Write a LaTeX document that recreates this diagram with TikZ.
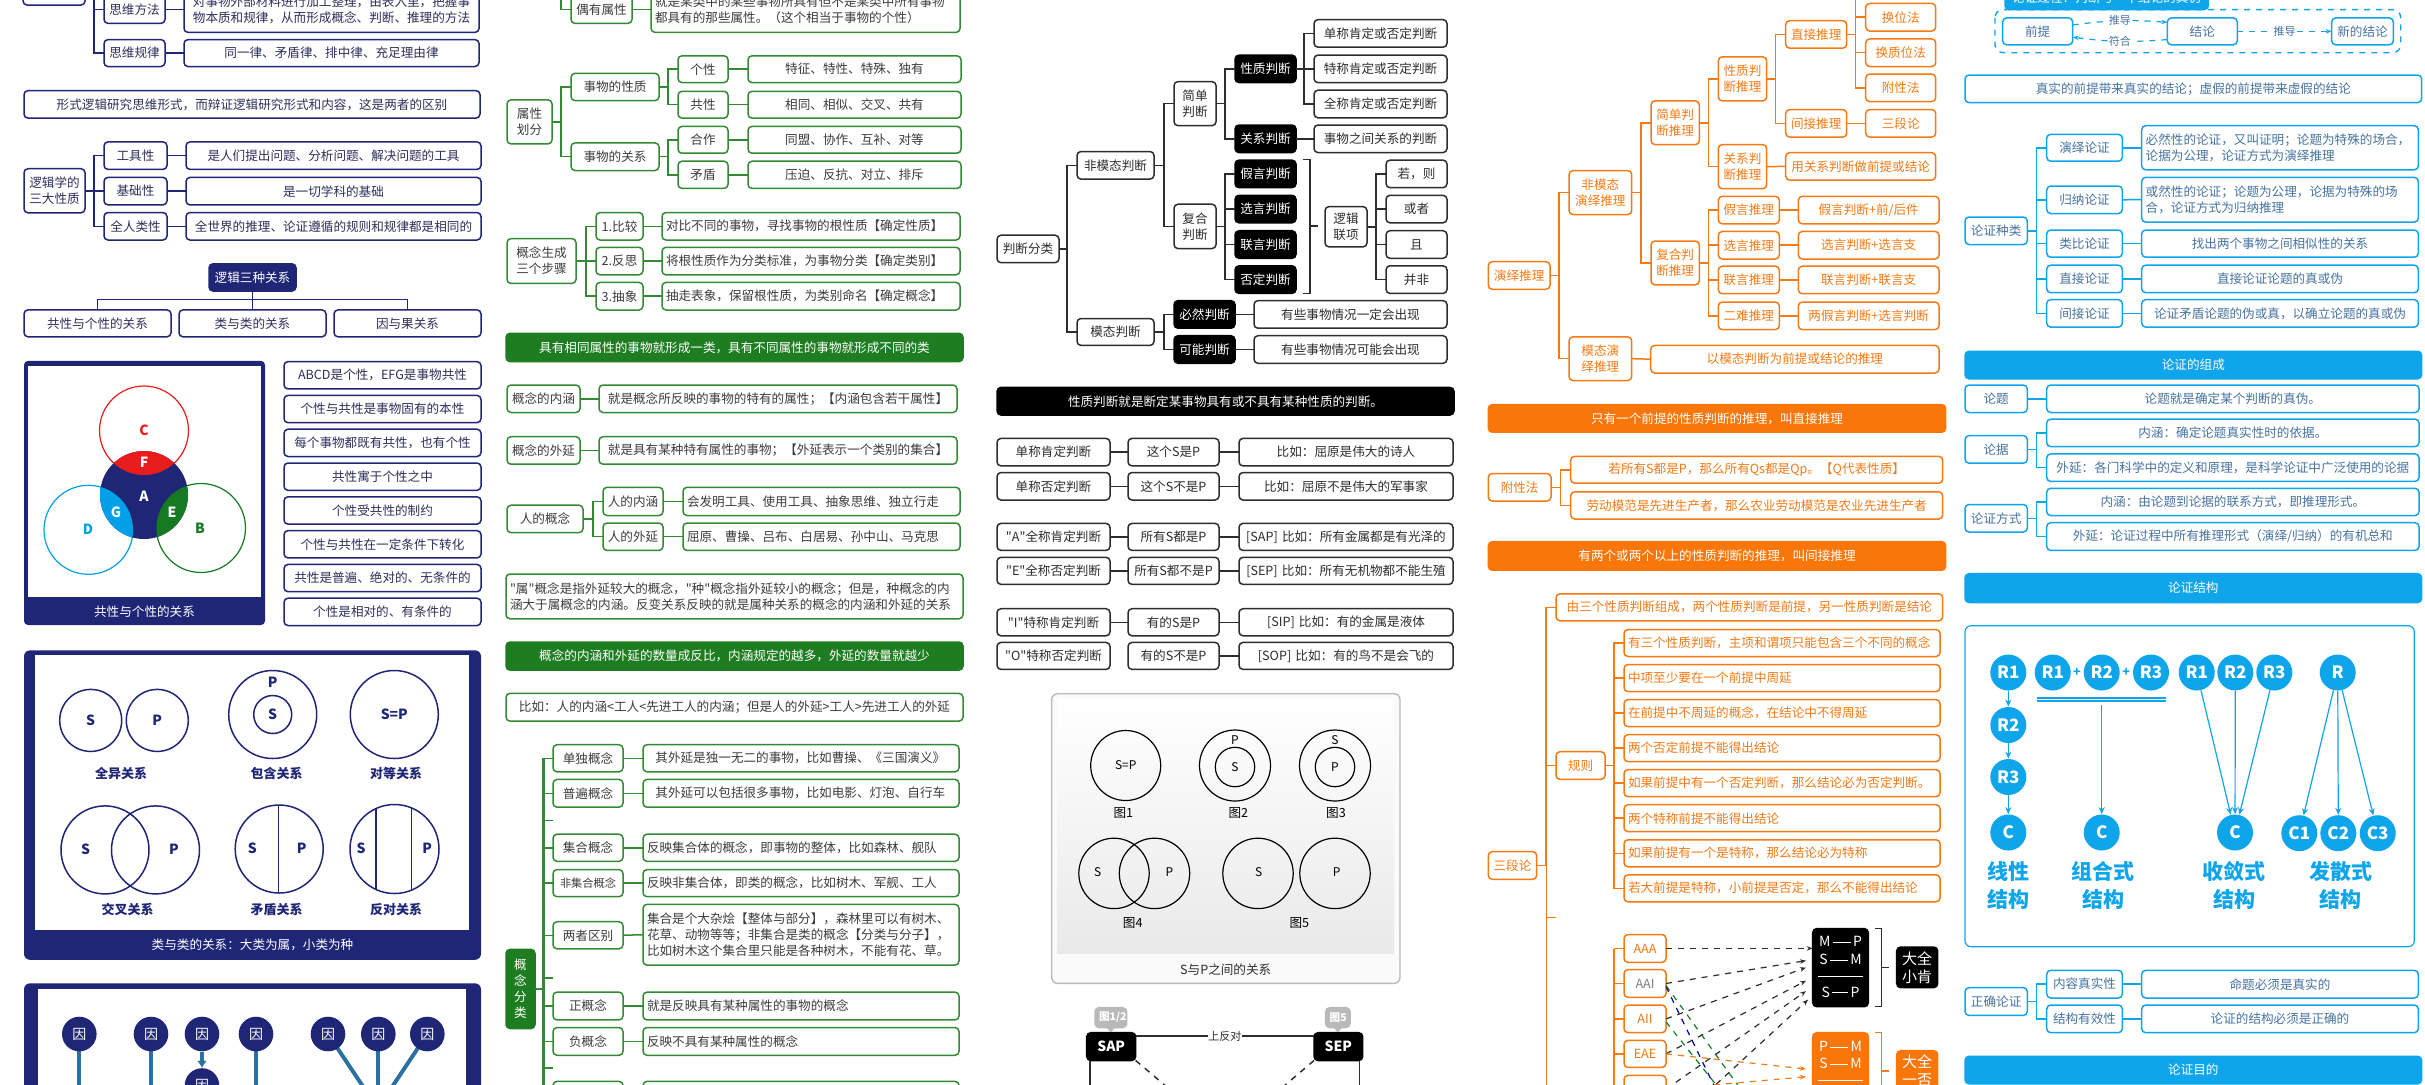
\documentclass[tikz,border=0pt]{standalone}
\usepackage{fontspec}
\setmainfont{Noto Sans CJK SC}
\usetikzlibrary{arrows.meta,positioning,calc}
\definecolor{cnavy}{RGB}{31,38,118}
\definecolor{cnavytx}{RGB}{45,48,90}
\definecolor{cgreen}{RGB}{52,138,52}
\definecolor{cgreenf}{RGB}{30,125,32}
\definecolor{cgreytx}{RGB}{60,60,60}
\definecolor{cdark}{RGB}{45,45,45}
\definecolor{corange}{RGB}{245,122,20}
\definecolor{corangef}{RGB}{248,118,10}
\definecolor{cblue}{RGB}{14,165,235}
\definecolor{cbluetx}{RGB}{70,115,160}
\definecolor{csteel}{RGB}{42,112,160}
\definecolor{cred}{RGB}{232,28,28}
\definecolor{clight}{RGB}{0,160,233}
\definecolor{cvgreen}{RGB}{22,122,34}
\newcommand\fsz{\fontsize{6.3}{8}\selectfont}
\newcommand\qt{\textquotedbl}
\newcommand\bx[7][]{%
  \pgfmathsetmacro\bxw{((#5)-(#3))*0.5-4}%
  \pgfmathsetmacro\bxh{((#6)-(#4))*0.5}%
  \node[box,#1,minimum height=\bxh pt,text width=\bxw pt] (#2) at ({((#3)+(#5))/2},{((#4)+(#6))/2}) {#7};}
\newcommand\tree[3]{\foreach \ch in {#3} \draw[#1] (#2.east) -| ([xshift=-5pt]\ch.west) -- (\ch.west);}
\tikzset{
  box/.style={draw, rounded corners=2pt, line width=0.75pt, inner xsep=2pt, inner ysep=0.5pt, outer sep=0pt, align=center, font=\fsz},
  nv/.style={box, draw=cnavy, text=cnavytx},
  nvf/.style={box, draw=cnavy, fill=cnavy, text=white},
  gr/.style={box, draw=cgreen, text=cgreytx},
  grf/.style={box, draw=cgreenf, fill=cgreenf, text=white},
  bk/.style={box, draw=cdark, text=cdark},
  bkf/.style={box, draw=black, fill=black, text=white},
  og/.style={box, draw=corange, text=corange},
  ogf/.style={box, draw=corangef, fill=corangef, text=white},
  bl/.style={box, draw=cblue, text=cbluetx},
  blf/.style={box, draw=cblue, fill=cblue, text=white},
  lft/.style={align=left},
  nvl/.style={draw=cnavy, line width=0.75pt},
  grl/.style={draw=cgreen, line width=0.75pt},
  bkl/.style={draw=cdark, line width=0.75pt},
  ogl/.style={draw=corange, line width=0.75pt},
  bll/.style={draw=cblue, line width=0.75pt},
  csl/.style={draw=csteel, line width=2pt},
  yin/.style={circle, fill=cnavy, text=white, inner sep=0pt, minimum size=17.3pt, font=\fontsize{7}{8}\selectfont},
  vl/.style={text=cnavy, font=\bfseries\fontsize{7}{8}\selectfont},
  vcap/.style={text=cnavy, font=\bfseries\fontsize{6.5}{8}\selectfont},
  sp/.style={font=\fontsize{6}{7}\selectfont, inner sep=0.5pt},
  tag/.style={box, draw=gray!55, fill=gray!55, text=white, font=\bfseries\fontsize{5.3}{6}\selectfont},
  fig/.style={text=white, inner sep=0pt, font=\fontsize{7}{8}\selectfont},
  dsh/.style={dashed, line width=0.6pt, -{Stealth[length=3pt]}},
  rc/.style={circle, fill=cblue, text=white, inner sep=0pt, minimum size=18pt, font=\bfseries\fontsize{8.5}{10}\selectfont},
  bla/.style={draw=cblue, line width=0.6pt, -{Stealth[length=3.5pt,width=3pt]}},
  bld/.style={draw=cblue, dashed, line width=0.6pt, -{Stealth[length=3pt]}},
  lbl/.style={fill=white, inner sep=0.3pt, text=cbluetx, font=\fontsize{5.5}{6}\selectfont},
  stl/.style={align=center, text=cblue, font=\bfseries\fontsize{10.5}{13.8}\selectfont},
}
\begin{document}
\begin{tikzpicture}[x=0.5pt, y=-0.5pt]
  \useasboundingbox (0,0) rectangle (2425,1084);
  \fill[white] (0,0) rectangle (2425,1084);
  \clip (0,0) rectangle (2425,1084);

  % column 1
  \bx[nv]{topa}{23}{-25}{85}{5}{}
  \bx[nv]{swff}{104}{-4}{165}{23.4}{思维方法}
  \bx[nv]{swffd}{184}{-13}{479}{32.4}{对事物外部材料进行加工整理，由表入里，把握事\\物本质和规律，从而形成概念、判断、推理的方法}
  \bx[nv]{swgl}{104}{39.6}{165}{66.5}{思维规律}
  \bx[nv]{swgld}{184}{39.6}{479}{66.5}{同一律、矛盾律、排中律、充足理由律}
  \coordinate (swtop) at (94,-5);
  \draw[nvl] (swtop) |- (swff.west);
  \draw[nvl] (swtop) |- (swgl.west);
  \draw[nvl] (swff.east) -- (swffd.west);
  \draw[nvl] (swgl.east) -- (swgld.west);

  \bx[nv]{xsbj}{24}{90.6}{480}{118.1}{形式逻辑研究思维形式，而辩证逻辑研究形式和内容，这是两者的区别}

  \bx[nv]{sdxz}{24}{168.7}{85}{212.8}{逻辑学的\\三大性质}
  \bx[nv]{gjx}{104}{141.9}{167}{169.4}{工具性}
  \bx[nv]{jcx}{104}{177.4}{167}{204.9}{基础性}
  \bx[nv]{qrlx}{104}{212.5}{167}{240}{全人类性}
  \bx[nv]{gjxd}{186}{141.9}{481}{169.4}{是人们提出问题、分析问题、解决问题的工具}
  \bx[nv]{jcxd}{186}{177.4}{481}{204.9}{是一切学科的基础}
  \bx[nv]{qrlxd}{186}{212.5}{481}{240}{全世界的推理、论证遵循的规则和规律都是相同的}
  \tree{nvl}{sdxz}{gjx,jcx,qrlx}
  \draw[nvl] (gjx.east) -- (gjxd.west);
  \draw[nvl] (jcx.east) -- (jcxd.west);
  \draw[nvl] (qrlx.east) -- (qrlxd.west);

  \bx[nvf]{szgx}{209}{263.8}{296}{291}{逻辑三种关系}
  \bx[nv]{gxgx}{24}{309.9}{171}{336.8}{共性与个性的关系}
  \bx[nv]{lylgx}{179}{309.9}{326}{336.8}{类与类的关系}
  \bx[nv]{yygx}{334}{309.9}{481}{336.8}{因与果关系}
  \foreach \ch in {gxgx,lylgx,yygx} \draw[nvl] (szgx.south) -- ++(0,8.6) -| (\ch.north);

  \fill[cnavy, rounded corners=2pt] (24,360.9) rectangle (265,625);
  \fill[white] (28.3,365.7) rectangle (260.7,597.3);
  \node[text=white, font=\fsz] (cap1) at (144.5,612) {共性与个性的关系};
  \draw[cred, line width=0.6pt] (144,430.5) circle (22.25pt);
  \draw[clight, line width=0.6pt] (88.5,529.8) circle (22.25pt);
  \draw[cvgreen, line width=0.6pt] (201,528) circle (22.25pt);
  \fill[cnavy] (144,495) circle (22pt);
  \begin{scope}
    \clip (144,495) circle (22pt);
    \fill[cred] (144,430.5) circle (22.25pt);
    \fill[clight] (88.5,529.8) circle (22.25pt);
    \fill[cvgreen] (201,528) circle (22.25pt);
  \end{scope}
  \node[vl, text=cred] (vc) at (144,430.5) {C};
  \node[vl, text=white] (vf) at (144,462.5) {F};
  \node[vl, text=white] (va) at (144,496) {A};
  \node[vl, text=white] (vg) at (116,512) {G};
  \node[vl, text=white] (ve) at (172,512) {E};
  \node[vl, text=clight] (vd) at (88,529.6) {D};
  \node[vl, text=cvgreen] (vb) at (200,528) {B};

  \foreach \t [count=\i from 0] in {ABCD是个性，EFG是事物共性,个性与共性是事物固有的本性,每个事物都既有共性，也有个性,共性寓于个性之中,个性受共性的制约,个性与共性在一定条件下转化,共性是普遍、绝对的、无条件的,个性是相对的、有条件的}
    {\bx[nv]{gxl\i}{284}{361.6+33.8*\i}{481}{388.9+33.8*\i}{\t}}

  \fill[cnavy, rounded corners=3pt] (24,650.3) rectangle (481,959.8);
  \fill[white] (35,655.2) rectangle (469,930.4);
  \node[text=white, font=\fsz] (cap2) at (252.5,945.3) {类与类的关系：大类为属，小类为种};
  \begin{scope}[cnavy, line width=0.75pt]
    \draw (90.7,720.4) circle (15.5pt);
    \draw (157.3,720.4) circle (15.5pt);
    \draw (272.7,714.5) circle (22pt);
    \draw (272.7,714.5) circle (9.5pt);
    \draw (394.3,714.5) circle (22pt);
    \draw (105,849.9) circle (22pt);
    \draw (155.5,849.9) circle (22pt);
    \draw (279.2,849) circle (22pt);
    \draw (278.7,805) -- (278.7,893);
    \draw (394.5,849) circle (22.25pt);
    \draw (376,808.5) -- (376,889.5);
    \draw (411.7,808) -- (411.7,890);
  \end{scope}
  \node[vl] (qs) at (90.7,720.4) {S};
  \node[vl] (qp) at (157.3,720.4) {P};
  \node[vl] (bp) at (272.7,682.3) {P};
  \node[vl] (bs) at (272.7,714.5) {S};
  \node[vl] (ds) at (394.3,714.5) {S=P};
  \node[vl] (js) at (85.7,848.8) {S};
  \node[vl] (jp) at (174,848.8) {P};
  \node[vl] (ms) at (252.3,848) {S};
  \node[vl] (mp) at (301.7,848) {P};
  \node[vl] (fs) at (361,848) {S};
  \node[vl] (fp) at (427.3,848) {P};
  \node[vcap] (l1) at (121,773.5) {全异关系};
  \node[vcap] (l2) at (276.7,773.5) {包含关系};
  \node[vcap] (l3) at (396,773.5) {对等关系};
  \node[vcap] (l4) at (127.7,909.5) {交叉关系};
  \node[vcap] (l5) at (276.7,909.5) {矛盾关系};
  \node[vcap] (l6) at (396,909.5) {反对关系};

  \fill[cnavy, rounded corners=3pt] (24,983.3) rectangle (481,1120);
  \fill[white] (37.7,989.3) rectangle (465.7,1120);
  \draw[csl] (79.3,1034) -- ++(0,70);
  \draw[csl] (151,1034) -- ++(0,70);
  \draw[csl] (256,1034) -- ++(0,70);
  \draw[csl] (328,1034) -- ++(40,60);
  \draw[csl] (378.3,1034) -- ++(0,70);
  \draw[csl] (427.3,1034) -- ++(-40,60);
  \foreach \x [count=\i] in {79.3,151,202,256,328,378.3,427.3}
    \node[yin] (yin\i) at (\x,1034) {因};
  \node[yin] (yin8) at (202,1085.5) {因};
  \draw[csl, -{Latex[length=3.5pt,width=5pt]}] (yin3) -- (yin8);

  % column 2
  \bx[gr]{oysx}{571}{-4}{632}{23.4}{偶有属性}
  \bx[gr,lft]{oysxd}{651}{-13}{960}{32.4}{就是某类中的某些事物所具有但不是某类中所有事物\\都具有的那些属性。（这个相当于事物的个性）}
  \draw[grl] (561,-5) |- (oysx.west);
  \draw[grl] (oysx.east) -- (oysxd.west);

  \bx[gr]{sxhf}{507}{99.9}{552}{143.9}{属性\\划分}
  \bx[gr]{swxz}{571}{73.3}{659}{100.6}{事物的性质}
  \bx[gr]{swgx}{571}{142.9}{659}{170.5}{事物的关系}
  \bx[gr]{gexing}{678}{55.8}{728}{82.6}{个性}
  \bx[gr]{gongxing}{678}{91.3}{728}{118.1}{共性}
  \bx[gr]{hezuo}{678}{126.4}{728}{153.2}{合作}
  \bx[gr]{maodun}{678}{161.2}{728}{188.4}{矛盾}
  \bx[gr]{gexingd}{748}{55.8}{961}{82.6}{特征、特性、特殊、独有}
  \bx[gr]{gongxingd}{748}{91.3}{961}{118.1}{相同、相似、交叉、共有}
  \bx[gr]{hezuod}{748}{126.4}{961}{153.2}{同盟、协作、互补、对等}
  \bx[gr]{maodund}{748}{161.2}{961}{188.4}{压迫、反抗、对立、排斥}
  \tree{grl}{sxhf}{swxz,swgx}
  \tree{grl}{swxz}{gexing,gongxing}
  \tree{grl}{swgx}{hezuo,maodun}
  \foreach \ch in {gexing,gongxing,hezuo,maodun} \draw[grl] (\ch.east) -- (\ch d.west);

  \bx[gr]{gnsc}{507}{238.6}{576}{283.4}{概念生成\\三个步骤}
  \bx[gr]{bj}{596}{212.5}{643}{240}{1.比较}
  \bx[gr]{fs}{596}{247.3}{643}{274.8}{2.反思}
  \bx[gr]{cx}{596}{282.4}{643}{310}{3.抽象}
  \bx[gr,lft]{bjd}{662}{212.5}{960}{240}{对比不同的事物，寻找事物的根性质【确定性质】}
  \bx[gr,lft]{fsd}{662}{247.3}{960}{274.8}{将根性质作为分类标准，为事物分类【确定类别】}
  \bx[gr,lft]{cxd}{662}{282.4}{960}{310}{抽走表象，保留根性质，为类别命名【确定概念】}
  \tree{grl}{gnsc}{bj,fs,cx}
  \foreach \ch in {bj,fs,cx} \draw[grl] (\ch.east) -- (\ch d.west);

  \bx[grf]{ban1}{506}{333.3}{963}{361.6}{具有相同属性的事物就形成一类，具有不同属性的事物就形成不同的类}
  \bx[gr]{gnnh}{507}{385}{580}{412.5}{概念的内涵}
  \bx[gr]{gnnhd}{599}{385}{957}{412.5}{就是概念所反映的事物的特有的属性；【内涵包含若干属性】}
  \bx[gr]{gnwy}{507}{436.7}{580}{464.2}{概念的外延}
  \bx[gr]{gnwyd}{599}{436.7}{957}{464.2}{就是具有某种特有属性的事物；【外延表示一个类别的集合】}
  \draw[grl] (gnnh.east) -- (gnnhd.west);
  \draw[grl] (gnwy.east) -- (gnwyd.west);

  \bx[gr]{rdgn}{507}{505.2}{583}{532.7}{人的概念}
  \bx[gr]{rnh}{603}{487.3}{663}{515.5}{人的内涵}
  \bx[gr]{rwy}{603}{523}{663}{550.4}{人的外延}
  \bx[gr,lft]{rnhd}{683}{487.3}{960}{515.5}{会发明工具、使用工具、抽象思维、独立行走}
  \bx[gr,lft]{rwyd}{683}{523}{960}{550.4}{屈原、曹操、吕布、白居易、孙中山、马克思}
  \tree{grl}{rdgn}{rnh,rwy}
  \draw[grl] (rnh.east) -- (rnhd.west);
  \draw[grl] (rwy.east) -- (rwyd.west);

  \bx[gr,lft]{szgn}{506}{574}{963}{618.8}{\qt 属\qt 概念是指外延较大的概念，\qt 种\qt 概念指外延较小的概念；但是，种概念的内\\涵大于属概念的内涵。反变关系反映的就是属种关系的概念的内涵和外延的关系}
  \bx[grf]{ban2}{506}{642}{963}{670.1}{概念的内涵和外延的数量成反比，内涵规定的越多，外延的数量就越少}
  \bx[gr]{biru}{506}{693.4}{963}{721.1}{比如：人的内涵<工人<先进工人的内涵；但是人的外延>工人>先进工人的外延}

  \bx[grf]{gnfl}{506}{949.4}{535}{1028.5}{概\\念\\分\\类}
  \draw[grl] (544,758.6) -- (544,1100);
  \foreach \y in {820.4,978.2,1068.1} \draw[grl] (544,\y) -- (553,\y);
  \bx[gr]{ddgn}{553}{744.7}{623}{771.8}{单独概念}
  \bx[gr]{pbgn}{553}{779.4}{623}{807.2}{普遍概念}
  \bx[gr]{jhgn}{553}{834.2}{623}{861.3}{集合概念}
  \bx[gr,font=\fontsize{5.6}{7}\selectfont]{fjhgn}{553}{869.6}{623}{896.7}{非集合概念}
  \bx[gr]{lzqb}{553}{921.7}{623}{948.8}{两者区别}
  \bx[gr]{zgn}{553}{992.1}{623}{1019.9}{正概念}
  \bx[gr]{fgn}{553}{1027.5}{623}{1055.3}{负概念}
  \bx[gr]{nxgn}{553}{1081.3}{623}{1108.5}{}
  \bx[gr,lft]{ddgnd}{643}{744.7}{959}{771.8}{\ \ 其外延是独一无二的事物，比如曹操、《三国演义》}
  \bx[gr,lft]{pbgnd}{643}{779.4}{959}{807.2}{\ \ 其外延可以包括很多事物，比如电影、灯泡、自行车}
  \bx[gr,lft]{jhgnd}{643}{834.2}{959}{861.3}{反映集合体的概念，即事物的整体，比如森林、舰队}
  \bx[gr,lft]{fjhgnd}{643}{869.6}{959}{896.7}{反映非集合体，即类的概念，比如树木、军舰、工人}
  \bx[gr,lft]{lzqbd}{643}{904.3}{959}{965.1}{集合是个大杂烩【整体与部分】，森林里可以有树木、\\花草、动物等等；非集合是类的概念【分类与分子】，\\比如树木这个集合里只能是各种树木，不能有花、草。}
  \bx[gr,lft]{zgnd}{643}{992.1}{959}{1019.9}{就是反映具有某种属性的事物的概念}
  \bx[gr,lft]{fgnd}{643}{1027.5}{959}{1055.3}{反映不具有某种属性的概念}
  \bx[gr,lft]{nxgnd}{643}{1081.3}{959}{1108.5}{}
  \tree{grl}{gnfl}{ddgn,pbgn,jhgn,fjhgn,lzqb,zgn,fgn,nxgn}
  \foreach \ch in {ddgn,pbgn,jhgn,fjhgn,lzqb,zgn,fgn,nxgn} \draw[grl] (\ch.east) -- (\ch d.west);

  % column 3
  \bx[bk]{pdfl}{997}{235.2}{1059}{262.7}{判断分类}
  \bx[bk]{fmt}{1077}{151.5}{1154}{179.1}{非模态判断}
  \bx[bk]{mt}{1077}{318.5}{1154}{345.4}{模态判断}
  \bx[bk]{jdpd}{1174}{81.6}{1216}{125.7}{简单\\判断}
  \bx[bk]{fhpd}{1174}{204.2}{1216}{248.6}{复合\\判断}
  \bx[bkf]{xzpd}{1235}{55.1}{1296}{82.6}{性质判断}
  \bx[bkf]{gxpd}{1235}{125}{1296}{152.6}{关系判断}
  \bx[bk]{dcpd}{1314}{19.6}{1447}{47.2}{单称肯定或否定判断}
  \bx[bk]{tcpd}{1314}{55.1}{1447}{82.6}{特称肯定或否定判断}
  \bx[bk]{qcpd}{1314}{90.2}{1447}{117.8}{全称肯定或否定判断}
  \bx[bk]{gxpdd}{1314}{125}{1447}{152.6}{事物之间关系的判断}
  \bx[bkf]{jypd}{1235}{160.1}{1296}{187.7}{假言判断}
  \bx[bkf]{xypd}{1235}{195.3}{1296}{222.8}{选言判断}
  \bx[bkf]{lypd}{1235}{230.7}{1296}{258.3}{联言判断}
  \bx[bkf]{fdpd}{1235}{265.8}{1296}{293.4}{否定判断}
  \bx[bk]{ljlx}{1325}{206.6}{1367}{246.9}{逻辑\\联项}
  \bx[bk]{rz}{1386}{160.1}{1447}{187.7}{若，则}
  \bx[bk]{hz}{1386}{195.3}{1447}{222.8}{或者}
  \bx[bk]{qie}{1386}{230.7}{1447}{258.3}{且}
  \bx[bk]{bf}{1386}{265.8}{1447}{293.4}{并非}
  \bx[bkf]{brpd}{1174}{300.6}{1235}{328.2}{必然判断}
  \bx[bkf]{knpd}{1174}{335.7}{1235}{363.3}{可能判断}
  \bx[bk]{brpdd}{1254}{300.6}{1447}{328.2}{有些事物情况一定会出现}
  \bx[bk]{knpdd}{1254}{335.7}{1447}{363.3}{有些事物情况可能会出现}
  \tree{bkl}{pdfl}{fmt,mt}
  \tree{bkl}{fmt}{jdpd,fhpd}
  \tree{bkl}{jdpd}{xzpd,gxpd}
  \tree{bkl}{xzpd}{dcpd,tcpd,qcpd}
  \draw[bkl] (gxpd.east) -- (gxpdd.west);
  \tree{bkl}{fhpd}{jypd,xypd,lypd,fdpd}
  \tree{bkl}{ljlx}{rz,hz,qie,bf}
  \tree{bkl}{mt}{brpd,knpd}
  \draw[bkl] (brpd.east) -- (brpdd.west);
  \draw[bkl] (knpd.east) -- (knpdd.west);
  \draw[bkl] (1303,159.4) -- (1310,159.4) -- (1310,293.4) -- (1303,293.4);
  \draw[bkl] (1310,226.2) -- (1318,226.2);

  \bx[bkf]{ban3}{997}{387.4}{1454}{415}{性质判断就是断定某事物具有或不具有某种性质的判断。}
  \bx[bk]{ra1}{997}{438.4}{1110}{465.9}{单称肯定判断}
  \bx[bk]{rb1}{1128}{438.4}{1219}{465.9}{这个S是P}
  \bx[bk]{rc1}{1239}{438.4}{1453}{465.9}{比如：屈原是伟大的诗人}
  \bx[bk]{ra2}{997}{472.5}{1110}{500}{单称否定判断}
  \bx[bk]{rb2}{1128}{472.5}{1219}{500}{这个S不是P}
  \bx[bk]{rc2}{1239}{472.5}{1453}{500}{比如：屈原不是伟大的军事家}
  \bx[bk]{ra3}{997}{523.4}{1110}{550.4}{\qt A\qt 全称肯定判断}
  \bx[bk]{rb3}{1128}{523.4}{1219}{550.4}{所有S都是P}
  \bx[bk]{rc3}{1239}{523.4}{1453}{550.4}{[SAP] 比如：所有金属都是有光泽的}
  \bx[bk]{ra4}{997}{557.3}{1110}{584.4}{\qt E\qt 全称否定判断}
  \bx[bk]{rb4}{1128}{557.3}{1219}{584.4}{所有S都不是P}
  \bx[bk]{rc4}{1239}{557.3}{1453}{584.4}{[SEP] 比如：所有无机物都不能生殖}
  \bx[bk]{ra5}{997}{608.7}{1110}{635.8}{\qt I\qt 特称肯定判断}
  \bx[bk]{rb5}{1128}{608.7}{1219}{635.8}{有的S是P}
  \bx[bk]{rc5}{1239}{608.7}{1453}{635.8}{[SIP] 比如：有的金属是液体}
  \bx[bk]{ra6}{997}{642.4}{1110}{669.4}{\qt O\qt 特称否定判断}
  \bx[bk]{rb6}{1128}{642.4}{1219}{669.4}{有的S不是P}
  \bx[bk]{rc6}{1239}{642.4}{1453}{669.4}{[SOP] 比如：有的鸟不是会飞的}
  \foreach \i in {1,...,5} \draw[bkl] (ra\i.east) -- (rb\i.west);
  \foreach \i in {1,...,6} \draw[bkl] (rb\i.east) -- (rc\i.west);

  \draw[gray!55, fill=gray!4, rounded corners=3pt, line width=0.7pt] (1051.7,693.7) rectangle (1400,983.4);
  \shade[top color=white, bottom color=gray!17] (1057,699) rectangle (1394,953.6);
  \node[text=cdark, font=\fsz] (cap3) at (1225.7,969.6) {S与P之间的关系};
  \begin{scope}[black, line width=0.6pt]
    \draw (1125.7,765.5) circle (17.5pt);
    \draw (1235,765.5) circle (17.75pt);
    \draw (1235,767) circle (9.85pt);
    \draw (1335,765.5) circle (17.75pt);
    \draw (1335,767) circle (9.85pt);
    \draw (1114,873.4) circle (17.6pt);
    \draw (1154.5,873.4) circle (17.6pt);
    \draw (1258,873.4) circle (17.6pt);
    \draw (1335,873.4) circle (17.6pt);
  \end{scope}
  \node[sp] (t1) at (1125.7,765.5) {S=P};
  \node[sp] (t2a) at (1235,740.2) {P};
  \node[sp] (t2b) at (1235,767) {S};
  \node[sp] (t3a) at (1335,740.2) {S};
  \node[sp] (t3b) at (1335,767) {P};
  \node[sp] (t4a) at (1097.7,872.4) {S};
  \node[sp] (t4b) at (1169.3,872.4) {P};
  \node[sp] (t5a) at (1258.7,872.4) {S};
  \node[sp] (t5b) at (1336.7,872.4) {P};
  \node[font=\fsz] (g1) at (1123.3,813.4) {图1};
  \node[font=\fsz] (g2) at (1238.3,813.4) {图2};
  \node[font=\fsz] (g3) at (1336,813.4) {图3};
  \node[font=\fsz] (g4) at (1132.7,923.4) {图4};
  \node[font=\fsz] (g5) at (1299.3,923.4) {图5};

  \bx[bkf,font=\bfseries\fontsize{7}{8}\selectfont]{sap}{1086.7}{1032.7}{1135.7}{1060.5}{SAP}
  \bx[bkf,font=\bfseries\fontsize{7}{8}\selectfont]{sep}{1314}{1032.7}{1362.7}{1060.5}{SEP}
  \bx[tag]{tag1}{1095}{1007.7}{1126.7}{1027.5}{图1/2}
  \bx[tag]{tag2}{1325.7}{1007.7}{1350}{1027.5}{图5}
  \foreach \tg in {tag1,tag2}
    \fill[gray!55] ([xshift=-2.2pt]\tg.south) -- ([yshift=-2.4pt]\tg.south) -- ([xshift=2.2pt]\tg.south) -- cycle;
  \draw[bkl] ([yshift=-1.75pt]sap.north east) -- node[fill=white, inner sep=0.3pt, text=cdark, font=\fontsize{5.5}{6}\selectfont] {上反对} ([yshift=-1.75pt]sep.north west);
  \draw[bkl] ([xshift=1.6pt]sap.south west) -- ++(0,50);
  \draw[bkl] ([xshift=-1.7pt]sep.south east) -- ++(0,50);
  \draw[bkl, dashed] (sap.south east) -- ++(40,34);
  \draw[bkl, dashed] (sep.south west) -- ++(-40,34);

  % column 4
  \bx[og]{yytl}{1488.3}{261.7}{1550}{289.3}{演绎推理}
  \bx[og]{fmtyy}{1569}{170.5}{1631.7}{214.5}{非模态\\演绎推理}
  \bx[og]{mtyy}{1569}{336.8}{1631.7}{380.5}{模态演\\绎推理}
  \bx[og]{jdtl}{1651}{100.9}{1699.3}{144.6}{简单判\\断推理}
  \bx[og]{fhtl}{1651}{241}{1699.3}{284.8}{复合判\\断推理}
  \bx[og]{xztl}{1718.3}{56.8}{1766.7}{100.9}{性质判\\断推理}
  \bx[og]{gxtl}{1718.3}{144.6}{1766.7}{188.7}{关系判\\断推理}
  \bx[og]{zjtl}{1785.7}{20.7}{1846.7}{48.2}{直接推理}
  \bx[og]{jjtl}{1785.7}{109.5}{1846.7}{137.1}{间接推理}
  \bx[og]{hwf}{1865.7}{3.4}{1935.7}{31}{换位法}
  \bx[og]{hzwf}{1865.7}{38.9}{1935.7}{66.5}{换质位法}
  \bx[og]{fxf}{1865.7}{74}{1935.7}{101.6}{附性法}
  \bx[og]{sdl}{1865.7}{109.5}{1935.7}{137.1}{三段论}
  \bx[og]{gxtld}{1785.7}{152.6}{1935.7}{180.1}{用关系判断做前提或结论}
  \bx[og]{jytl}{1718.3}{196.3}{1779.3}{223.8}{假言推理}
  \bx[og]{xytl}{1718.3}{231.4}{1779.3}{259}{选言推理}
  \bx[og]{lytl}{1718.3}{266.2}{1779.3}{293.7}{联言推理}
  \bx[og]{entl}{1718.3}{302}{1779.3}{329.6}{二难推理}
  \bx[og]{jytld}{1798.3}{196.3}{1939}{223.8}{假言判断+前/后件}
  \bx[og]{xytld}{1798.3}{231.4}{1939}{259}{选言判断+选言支}
  \bx[og]{lytld}{1798.3}{266.2}{1939}{293.7}{联言判断+联言支}
  \bx[og]{entld}{1798.3}{302}{1939}{329.6}{两假言判断+选言判断}
  \bx[og]{mtyyd}{1650.7}{345.4}{1939}{373}{以模态判断为前提或结论的推理}
  \tree{ogl}{yytl}{fmtyy,mtyy}
  \tree{ogl}{fmtyy}{jdtl,fhtl}
  \tree{ogl}{jdtl}{xztl,gxtl}
  \tree{ogl}{xztl}{zjtl,jjtl}
  \tree{ogl}{zjtl}{hwf,hzwf,fxf}
  \draw[ogl] (1855.7,34.5) -- (1855.7,-5);
  \draw[ogl] (jjtl.east) -- (sdl.west);
  \draw[ogl] (gxtl.east) -- (gxtld.west);
  \tree{ogl}{fhtl}{jytl,xytl,lytl,entl}
  \foreach \ch in {jytl,xytl,lytl,entl} \draw[ogl] (\ch.east) -- (\ch d.west);
  \draw[ogl] (mtyy.east) -- (mtyyd.west);

  \bx[ogf]{ban4}{1488.3}{404.6}{1945.7}{432.2}{只有一个前提的性质判断的推理，叫直接推理}
  \bx[og]{fxf2}{1488.3}{473.5}{1551}{501}{附性法}
  \bx[og]{fxfa}{1570.7}{456.3}{1942.7}{483.2}{若所有S都是P，那么所有Qs都是Qp。【Q代表性质】}
  \bx[og]{fxfb}{1570.7}{491.8}{1942.7}{519}{劳动模范是先进生产者，那么农业劳动模范是农业先进生产者}
  \tree{ogl}{fxf2}{fxfa,fxfb}

  \bx[ogf]{ban5}{1488.3}{541.7}{1945.7}{570.2}{有两个或两个以上的性质判断的推理，叫间接推理}
  \bx[og]{sdl2}{1488.3}{851.6}{1536.7}{879.3}{三段论}
  \draw[ogl] (1546.3,607) -- (1546.3,1100);
  \draw[ogl] (1546.3,917.5) -- (1556,917.5);
  \bx[og]{zucheng}{1556}{593.8}{1942.7}{620.8}{由三个性质判断组成，两个性质判断是前提，另一性质判断是结论}
  \bx[og]{guize}{1556}{751.7}{1605}{779.4}{规则}
  \tree{ogl}{sdl2}{zucheng,guize}
  \foreach \t [count=\i] in {有三个性质判断，主项和谓项只能包含三个不同的概念,中项至少要在一个前提中周延,在前提中不周延的概念，在结论中不得周延,两个否定前提不能得出结论,如果前提中有一个否定判断，那么结论必为否定判断。,两个特称前提不能得出结论,如果前提有一个是特称，那么结论必为特称,若大前提是特称，小前提是否定，那么不能得出结论}
    {\bx[og,lft]{gz\i}{1624}{629.5+35.04*(\i-1)}{1940}{656.5+35.04*(\i-1)}{\t}}
  \tree{ogl}{guize}{gz1,gz2,gz3,gz4,gz5,gz6,gz7,gz8}

  \draw[ogl] (1614,948.7) -- (1614,1100);
  \bx[og]{aaa}{1624}{934.5}{1666}{962.3}{AAA}
  \bx[og,text=gray]{aai}{1624}{969.6}{1666}{997.3}{AAI}
  \bx[og]{aii}{1624}{1005}{1666}{1032.7}{AII}
  \bx[og]{eae}{1624}{1040.3}{1666}{1067.4}{EAE}
  \bx[og]{mood5}{1624}{1075.4}{1666}{1103}{}
  \foreach \ch in {aaa,aai,aii,eae,mood5} \draw[ogl] (\ch.west) -- ++(-10,0);

  \bx[bkf]{figa}{1812.7}{928.6}{1868.3}{1006.7}{}
  \node[fig] (fa1) at (1840.5,941.8) {M\,\rule[0.5ex]{9pt}{0.5pt}\,P};
  \node[fig] (fa2) at (1840.5,959.2) {S\,\rule[0.5ex]{9pt}{0.5pt}\,M};
  \draw[white, line width=0.5pt] (1818.3,976.5) -- (1862.7,976.5);
  \node[fig] (fa3) at (1840.5,992.1) {S\,\rule[0.5ex]{8pt}{0.5pt}\,P};
  \draw[bkl] (1875,928.6) -- (1881.7,928.6) -- (1881.7,1006.7) -- (1875,1006.7);
  \draw[bkl] (1881.7,967.5) -- (1889.3,967.5);
  \bx[bkf,font=\fontsize{7.5}{9}\selectfont]{dqxk}{1896.7}{947}{1937.7}{987.6}{大全\\小肯}

  \bx[ogf]{figb}{1812.7}{1032.7}{1868.3}{1111}{}
  \node[fig] (fb1) at (1840.5,1046.6) {P\,\rule[0.5ex]{9pt}{0.5pt}\,M};
  \node[fig] (fb2) at (1840.5,1063.3) {S\,\rule[0.5ex]{9pt}{0.5pt}\,M};
  \draw[white, line width=0.5pt] (1818.3,1080.6) -- (1862.7,1080.6);
  \draw[ogl] (1875,1032.7) -- (1881.7,1032.7) -- (1881.7,1110);
  \draw[ogl] (1881.7,1070.9) -- (1889.3,1070.9);
  \bx[ogf,font=\fontsize{7.5}{9}\selectfont]{dqyf}{1896.7}{1050.7}{1937.7}{1091.3}{大全\\一否}

  \coordinate (ma) at (1806,960.6);
  \coordinate (mb) at (1806,967.5);
  \coordinate (mc) at (1806,980.7);
  \coordinate (md) at (1806,991.1);
  \coordinate (me) at (1808,999.7);
  \coordinate (mf) at (1806,1069);
  \coordinate (mg) at (1806,1076.7);
  \coordinate (lowa) at (1672,1125);
  \draw[dsh, cdark] (aaa.east) -- (aaa.east -| figa.west);
  \draw[dsh, cdark] (aai.east) -- (ma);
  \draw[dsh, cdark] (aii.east) -- (mb);
  \draw[dsh, cdark] (eae.east) -- (mc);
  \draw[dsh, cdark] (mood5.east) -- (md);
  \draw[dsh, cdark] (lowa) -- (me);
  \draw[dsh, corange] (eae.east) -- (mf);
  \draw[dsh, corange] (mood5.east) -- (mg);
  \draw[dashed, line width=0.6pt, blue!70!black] ([yshift=-1.5pt]aai.east) -- ++(60,124);
  \draw[dashed, line width=0.6pt, cvgreen] ([yshift=-1pt]aai.east) -- ++(90,125);
  \draw[dashed, line width=0.6pt, cvgreen] ([yshift=-1.5pt]aii.east) -- ++(70,88);

  % column 5
  \bx[blf]{tab}{2005}{-14}{2208.3}{9.6}{论证过程：判断与一个结论的真伪}
  \draw[cblue, dashed, rounded corners=4pt, line width=0.7pt] (1995,9.6) rectangle (2400.7,52.7);
  \bx[bl]{qiant}{2002.7}{17.9}{2072.7}{44.8}{前提}
  \bx[bl]{jiel}{2167.3}{17.9}{2237.3}{44.8}{结论}
  \bx[bl]{xjl}{2331.7}{17.9}{2393.3}{44.8}{新的结论}
  \draw[bld] ([yshift=3.2pt]qiant.east) to[bend left=6] node[lbl] {推导} ([yshift=4.5pt]jiel.west);
  \draw[bld] ([yshift=-4.1pt]jiel.west) to[bend left=6] node[lbl] {符合} ([yshift=-2.9pt]qiant.east);
  \draw[bld] (jiel.east) -- node[lbl] {推导} (xjl.west);

  \bx[bl]{zsqt}{1965}{75}{2421.7}{102.6}{真实的前提带来真实的结论；虚假的前提带来虚假的结论}
  \bx[bl]{lzzl}{1965}{217}{2027.3}{244.5}{论证种类}
  \bx[bl]{yylz}{2046.7}{134.3}{2122.3}{161.2}{演绎论证}
  \bx[bl]{gnlz}{2046.7}{186}{2122.3}{213.5}{归纳论证}
  \bx[bl]{lblz}{2046.7}{230}{2122.3}{257.2}{类比论证}
  \bx[bl]{zjlz}{2046.7}{265.2}{2122.3}{292.7}{直接论证}
  \bx[bl]{jjlz}{2046.7}{299.6}{2122.3}{327.1}{间接论证}
  \bx[bl,lft]{yylzd}{2141.7}{125.7}{2418.3}{169.8}{必然性的论证，又叫证明；论题为特殊的场合，\\论据为公理，论证方式为演绎推理}
  \bx[bl,lft]{gnlzd}{2141.7}{177.3}{2418.3}{222.1}{或然性的论证；论题为公理，论据为特殊的场\\合，论证方式为归纳推理}
  \bx[bl]{lblzd}{2141.7}{230}{2418.3}{257.2}{找出两个事物之间相似性的关系}
  \bx[bl]{zjlzd}{2141.7}{265.2}{2418.3}{292.7}{直接论证论题的真或伪}
  \bx[bl]{jjlzd}{2141.7}{299.6}{2418.3}{327.1}{论证矛盾论题的伪或真，以确立论题的真或伪}
  \tree{bll}{lzzl}{yylz,gnlz,lblz,zjlz,jjlz}
  \foreach \ch in {yylz,gnlz,lblz,zjlz,jjlz} \draw[bll] (\ch.east) -- (\ch d.west);

  \bx[blf]{ban6}{1965}{351.3}{2421.7}{378.8}{论证的组成}
  \bx[bl]{lunti}{1965}{385}{2027.3}{412.5}{论题}
  \bx[bl]{luntid}{2046.7}{385}{2419}{412.5}{论题就是确定某个判断的真伪。}
  \draw[bll] (lunti.east) -- (luntid.west);
  \bx[bl]{lunju}{1965}{435.6}{2027.3}{463.2}{论据}
  \bx[bl]{lunjua}{2046.7}{419.1}{2419}{446.6}{内涵：确定论题真实性时的依据。}
  \bx[bl]{lunjub}{2046.7}{453.9}{2419}{481.4}{外延：各门科学中的定义和原理，是科学论证中广泛使用的论据}
  \tree{bll}{lunju}{lunjua,lunjub}
  \bx[bl]{lzfs}{1965}{504.5}{2027.3}{532}{论证方式}
  \bx[bl]{lzfsa}{2046.7}{488.3}{2419}{515.5}{内涵：由论题到论据的联系方式，即推理形式。}
  \bx[bl]{lzfsb}{2046.7}{522.7}{2419}{550.4}{外延：论证过程中所有推理形式（演绎/归纳）的有机总和}
  \tree{bll}{lzfs}{lzfsa,lzfsb}

  \bx[blf]{ban7}{1965}{573.7}{2421.7}{602.5}{论证结构}
  \draw[cblue, rounded corners=3pt, line width=0.6pt] (1965,625.7) rectangle (2414.3,946.7);
  \node[rc] (xa) at (2008.3,672.5) {R1};
  \node[rc] (xb) at (2008.3,725) {R2};
  \node[rc] (xc) at (2008.3,777) {R3};
  \node[rc] (xr) at (2008.3,832.5) {C};
  \draw[bla] (xa) -- (xb);
  \draw[bla] (xb) -- (xc);
  \draw[bla] (xc) -- (xr);
  \node[rc] (za) at (2052.7,672.5) {R1};
  \node[text=cblue, font=\bfseries\fsz, inner sep=0pt] (zp1) at (2077,672.5) {+};
  \node[rc] (zb) at (2101.7,672.5) {R2};
  \node[text=cblue, font=\bfseries\fsz, inner sep=0pt] (zp2) at (2126.3,672.5) {+};
  \node[rc] (zc) at (2151,672.5) {R3};
  \node[rc] (zr) at (2101.7,832.5) {C};
  \draw[bll, line width=0.6pt] (2037.3,697.9) -- (2166,697.9);
  \draw[bll, line width=0.6pt] (2037.3,700.9) -- (2166,700.9);
  \coordinate (zbar) at (2101.7,704.8);
  \draw[bla] (zbar) -- (zr);
  \node[rc] (sa) at (2196.7,672.5) {R1};
  \node[rc] (sb) at (2235.3,672.5) {R2};
  \node[rc] (sc) at (2274.3,672.5) {R3};
  \node[rc] (sr) at (2235,832.5) {C};
  \foreach \ch in {sa,sb,sc} \draw[bla] (\ch) -- (sr);
  \node[rc] (fr) at (2337.7,672.5) {R};
  \node[rc] (fa) at (2299.3,833.2) {C1};
  \node[rc] (fb) at (2338.3,833.2) {C2};
  \node[rc] (fc) at (2377.7,833.2) {C3};
  \foreach \ch in {fa,fb,fc} \draw[bla] (fr) -- (\ch);
  \node[stl] (jg1) at (2008.3,885.2) {线性\\结构};
  \node[stl] (jg2) at (2103.3,885.2) {组合式\\结构};
  \node[stl] (jg3) at (2234,885.2) {收敛式\\结构};
  \node[stl] (jg4) at (2340.7,885.2) {发散式\\结构};

  \bx[bl]{zqlz}{1965}{987.6}{2027.3}{1015.4}{正确论证}
  \bx[bl]{nrzs}{2046.7}{970.3}{2122.3}{998}{内容真实性}
  \bx[bl]{jgyx}{2046.7}{1005}{2122.3}{1032.7}{结构有效性}
  \bx[bl]{nrzsd}{2141.7}{970.3}{2418.3}{998}{命题必须是真实的}
  \bx[bl]{jgyxd}{2141.7}{1005}{2418.3}{1032.7}{论证的结构必须是正确的}
  \tree{bll}{zqlz}{nrzs,jgyx}
  \draw[bll] (nrzs.east) -- (nrzsd.west);
  \draw[bll] (jgyx.east) -- (jgyxd.west);
  \bx[blf]{ban8}{1965}{1056.3}{2421.7}{1083.8}{论证目的}
\end{tikzpicture}
\end{document}
